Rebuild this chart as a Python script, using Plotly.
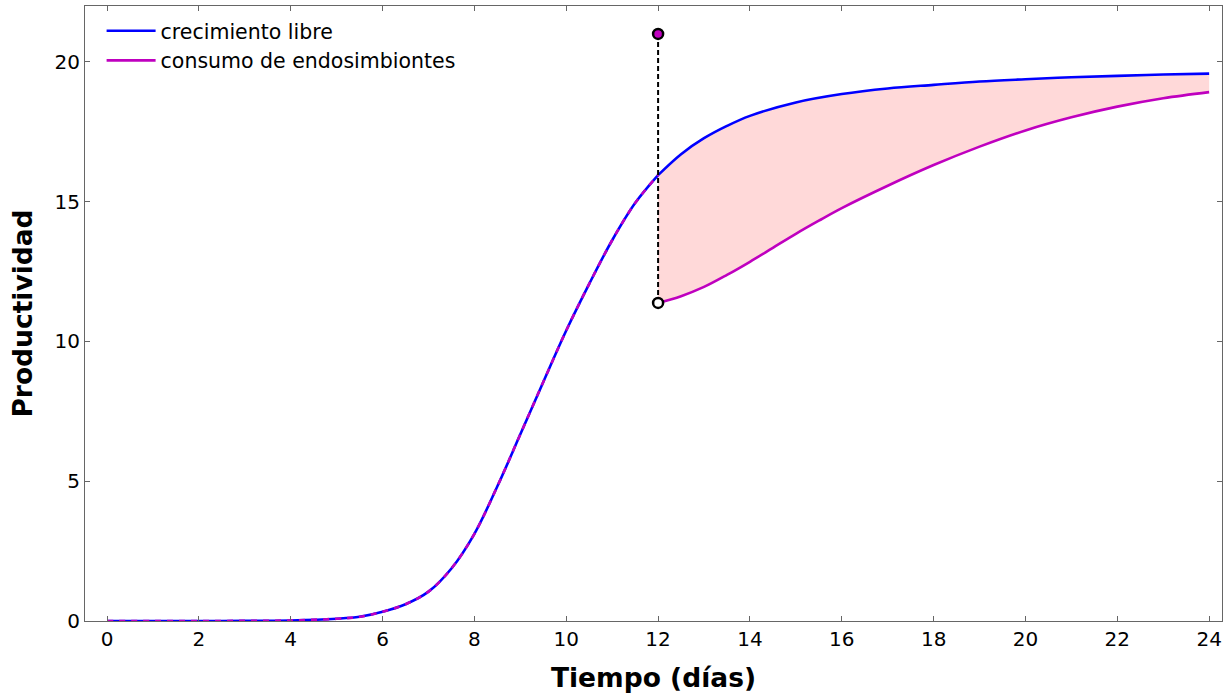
import plotly.graph_objects as go

# ---- data ----
t_free = [0, 1, 2, 3, 4, 5, 5.5, 6, 6.5, 7, 7.5, 8, 8.5, 9, 9.5, 10, 10.5, 11, 11.5, 12,
          12.5, 13, 13.5, 14, 15, 16, 17, 18, 19, 20, 21, 22, 23, 24]
free_growth = [0, 0, 0, 0.005, 0.02, 0.08, 0.15, 0.33, 0.6, 1.05, 1.88, 3.12, 4.82, 6.68, 8.55, 10.39,
               12.06, 13.62, 14.95, 15.95, 16.7, 17.27, 17.71, 18.07, 18.55, 18.85, 19.05, 19.18,
               19.3, 19.38, 19.45, 19.5, 19.55, 19.58]

t_cons = [12, 12.5, 13, 13.5, 14, 14.5, 15, 15.5, 16, 17, 18, 19, 20, 21, 22, 23, 24]
consumption = [11.38, 11.62, 11.95, 12.38, 12.85, 13.35, 13.85, 14.32, 14.77, 15.57, 16.31,
               16.97, 17.55, 18.02, 18.4, 18.7, 18.92]

event_t = 12
event_top = 21
event_bottom = 11.38

x_ticks = list(range(0, 25, 2))
y_ticks = [0, 5, 10, 15, 20]

BLUE = "#0000ff"
MAG = "#bf00bf"
FILL = "#ffd9d9"
FONT = "DejaVu Sans"

# split free growth into before / after the event
before_t = [t for t in t_free if t <= event_t]
before_v = [v for t, v in zip(t_free, free_growth) if t <= event_t]
after_t = [t for t in t_free if t >= event_t]
after_v = [v for t, v in zip(t_free, free_growth) if t >= event_t]

fig = go.Figure()

# shaded region between curves after the event
fig.add_trace(go.Scatter(x=t_cons, y=consumption, mode="lines", line=dict(width=0, shape="spline"),
                         showlegend=False, hoverinfo="skip"))
fig.add_trace(go.Scatter(x=after_t, y=after_v, mode="lines", line=dict(width=0, shape="spline"),
                         fill="tonexty", fillcolor=FILL, showlegend=False, hoverinfo="skip"))

# free growth (two pieces so the overlapping dashed curve matches exactly)
fig.add_trace(go.Scatter(x=before_t, y=before_v, mode="lines", name="crecimiento libre",
                         legendgroup="free",
                         line=dict(color=BLUE, width=2.6, shape="spline")))
fig.add_trace(go.Scatter(x=after_t, y=after_v, mode="lines", showlegend=False, legendgroup="free",
                         line=dict(color=BLUE, width=2.6, shape="spline")))
# consumption after event (solid)
fig.add_trace(go.Scatter(x=t_cons, y=consumption, mode="lines", name="consumo de endosimbiontes",
                         line=dict(color=MAG, width=2.6, shape="spline")))
# consumption before event (dashed, overlapping)
fig.add_trace(go.Scatter(x=before_t, y=before_v, mode="lines", showlegend=False,
                         line=dict(color=MAG, width=2.6, shape="spline", dash="6px,6px")))

# vertical dashed line at the event
fig.add_trace(go.Scatter(x=[event_t, event_t], y=[event_bottom, event_top], mode="lines",
                         line=dict(color="black", width=2, dash="5px,3px"), showlegend=False))
fig.add_trace(go.Scatter(x=[event_t], y=[event_top], mode="markers", showlegend=False,
                         marker=dict(size=10, color=MAG, line=dict(color="black", width=2.5))))
fig.add_trace(go.Scatter(x=[event_t], y=[event_bottom], mode="markers", showlegend=False,
                         marker=dict(size=10, color="white", line=dict(color="black", width=2.5))))

axis_common = dict(showline=True, mirror="ticks", linecolor="#666666", linewidth=1.2,
                   ticks="inside", ticklen=5, tickcolor="#666666", showgrid=False, zeroline=False,
                   tickfont=dict(family=FONT, size=20, color="black"))

fig.update_layout(
    width=1226, height=695,
    margin=dict(l=85, r=4, t=6, b=74),
    plot_bgcolor="white", paper_bgcolor="white",
    font=dict(family=FONT, color="black"),
    xaxis=dict(range=[-0.48, 24.28], tickvals=x_ticks, ticktext=[str(v) for v in x_ticks],
               title=dict(text="<b>Tiempo (días)</b>", font=dict(family=FONT, size=26.5), standoff=18),
               **axis_common),
    yaxis=dict(range=[0, 22], tickvals=y_ticks, ticktext=[str(v) for v in y_ticks],
               title=dict(text="<b>Productividad</b>", font=dict(family=FONT, size=26.5), standoff=14),
               **axis_common),
    legend=dict(x=0.0146, y=0.992, xanchor="left", yanchor="top", bgcolor="rgba(0,0,0,0)",
                font=dict(family=FONT, size=20.5), itemwidth=49, traceorder="normal",
                tracegroupgap=0),
)

fig.write_html("out.html")
